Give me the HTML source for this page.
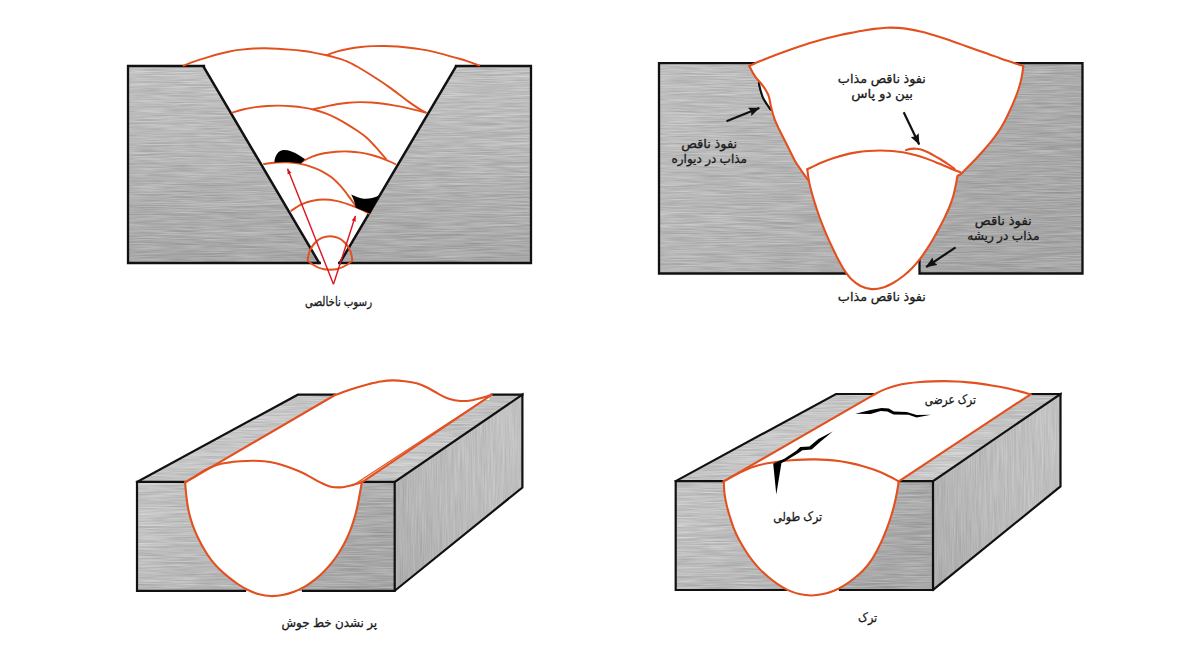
<!DOCTYPE html>
<html lang="fa">
<head>
<meta charset="utf-8">
<title>عیوب جوش</title>
<style>
html,body{margin:0;padding:0;background:#fff;}
body{width:1200px;height:653px;overflow:hidden;}
svg{display:block;}
text{font-family:"Liberation Sans", "DejaVu Sans", sans-serif;fill:#1a1a1a;stroke:#1a1a1a;stroke-width:0.3px;}
</style>
</head>
<body>
<svg width="1200" height="653" viewBox="0 0 1200 653">
<defs>
<filter id="brushH" x="0" y="0" width="100%" height="100%" filterUnits="objectBoundingBox" color-interpolation-filters="sRGB">
  <feTurbulence type="fractalNoise" baseFrequency="0.03 1.9" numOctaves="2" seed="3" result="n"/>
  <feColorMatrix in="n" type="matrix" values="1 0 0 0 0  1 0 0 0 0  1 0 0 0 0  0 0 0 0 1" result="g"/>
  <feComposite in="SourceGraphic" in2="g" operator="arithmetic" k1="0" k2="1" k3="0.22" k4="-0.11" result="c"/>
  <feComposite in="c" in2="SourceGraphic" operator="in"/>
</filter>
<filter id="brushV" x="0" y="0" width="100%" height="100%" filterUnits="objectBoundingBox" color-interpolation-filters="sRGB">
  <feTurbulence type="fractalNoise" baseFrequency="1.9 0.025" numOctaves="2" seed="5" result="n"/>
  <feColorMatrix in="n" type="matrix" values="1 0 0 0 0  1 0 0 0 0  1 0 0 0 0  0 0 0 0 1" result="g"/>
  <feComposite in="SourceGraphic" in2="g" operator="arithmetic" k1="0" k2="1" k3="0.14" k4="-0.07" result="c"/>
  <feComposite in="c" in2="SourceGraphic" operator="in"/>
</filter>
<linearGradient id="gTL" x1="0" y1="0" x2="0" y2="1">
  <stop offset="0" stop-color="#c0c0c0"/><stop offset="0.4" stop-color="#b8b8b8"/><stop offset="0.7" stop-color="#afafaf"/><stop offset="1" stop-color="#a8a8a8"/>
</linearGradient>
<linearGradient id="gTR" x1="0" y1="0" x2="1" y2="0.5">
  <stop offset="0" stop-color="#c0c0c0"/><stop offset="0.45" stop-color="#b5b5b5"/><stop offset="1" stop-color="#a6a6a6"/>
</linearGradient>
<linearGradient id="gFront" x1="0" y1="0" x2="1" y2="0.35">
  <stop offset="0" stop-color="#c5c5c5"/><stop offset="0.5" stop-color="#b8b8b8"/><stop offset="1" stop-color="#a7a7a7"/>
</linearGradient>
<linearGradient id="gTop" x1="0" y1="1" x2="1" y2="0">
  <stop offset="0" stop-color="#c2c2c2"/><stop offset="0.5" stop-color="#c8c8c8"/><stop offset="1" stop-color="#bebebe"/>
</linearGradient>
<linearGradient id="gSide" x1="0" y1="1" x2="1" y2="0">
  <stop offset="0" stop-color="#acacac"/><stop offset="0.5" stop-color="#bbbbbb"/><stop offset="1" stop-color="#c4c4c4"/>
</linearGradient>
<marker id="arR" viewBox="0 0 10 10" refX="9" refY="5" markerWidth="6" markerHeight="6" markerUnits="userSpaceOnUse" orient="auto">
  <path d="M0,1.5 L10,5 L0,8.5 Z" fill="#dc1420"/>
</marker>
<marker id="arK" viewBox="0 0 12 10" refX="11.3" refY="5" markerWidth="11.4" markerHeight="9.5" markerUnits="userSpaceOnUse" orient="auto">
  <path d="M0.3,0.4 L12,5 L0.3,9.6 L2,5 Z" fill="#111"/>
</marker>
</defs>
<rect width="1200" height="653" fill="#fff"/>

<g id="p1">
<g filter="url(#brushH)"><path d="M128,66 H204 L319.8,263 H128 Z" fill="url(#gTL)"/></g>
<g filter="url(#brushH)"><path d="M456,66 H531 V263 H339.2 Z" fill="url(#gTL)"/></g>
<path d="M204,66 H128 V263 H319.8 M339.2,263 H531 V66 H456" fill="none" stroke="#111" stroke-width="2.3" stroke-linejoin="miter" stroke-linecap="square"/>
<path d="M202.8,65.4 L319.7,263.8 M456.6,65.4 L339.3,263.8" fill="none" stroke="#111" stroke-width="2.5" stroke-linecap="butt"/>
<path d="M183.50,65.60 C185.38,64.88 190.97,62.61 194.77,61.29 C198.56,59.97 202.44,58.87 206.28,57.69 C210.13,56.51 213.96,55.27 217.85,54.23 C221.73,53.19 225.64,52.22 229.58,51.45 C233.53,50.68 237.52,50.11 241.51,49.63 C245.50,49.15 249.51,48.79 253.52,48.57 C257.53,48.35 261.56,48.28 265.58,48.31 C269.60,48.34 273.63,48.55 277.64,48.76 C281.66,48.98 285.68,49.25 289.68,49.59 C293.69,49.93 297.70,50.29 301.69,50.79 C305.68,51.30 309.66,51.89 313.62,52.60 C317.58,53.31 321.52,54.12 325.44,55.04 C329.35,55.96 333.26,56.96 337.10,58.13 C340.94,59.31 344.81,60.49 348.49,62.08 C352.16,63.68 355.65,65.72 359.13,67.71 C362.62,69.70 366.01,71.89 369.42,74.03 C372.82,76.17 376.22,78.32 379.57,80.54 C382.93,82.77 386.25,85.04 389.52,87.38 C392.80,89.71 396.02,92.13 399.23,94.54 C402.45,96.96 405.56,99.53 408.82,101.87 C412.09,104.21 416.01,106.80 418.84,108.59 C421.67,110.38 424.64,111.93 425.80,112.60" fill="none" stroke="#e3501f" stroke-width="1.9" stroke-linecap="round"/>
<path d="M326.00,55.30 C327.90,54.66 333.56,52.55 337.41,51.45 C341.27,50.36 345.20,49.48 349.14,48.74 C353.08,48.01 357.07,47.48 361.06,47.04 C365.05,46.60 369.06,46.30 373.07,46.12 C377.08,45.95 381.10,45.92 385.11,45.98 C389.12,46.05 393.14,46.25 397.14,46.54 C401.15,46.83 405.15,47.25 409.13,47.72 C413.12,48.19 417.10,48.73 421.07,49.38 C425.03,50.03 428.98,50.75 432.90,51.62 C436.82,52.48 440.70,53.52 444.58,54.56 C448.46,55.59 452.32,56.71 456.18,57.84 C460.03,58.96 463.91,60.03 467.71,61.31 C471.52,62.58 477.12,64.80 479.00,65.50" fill="none" stroke="#e3501f" stroke-width="1.9" stroke-linecap="round"/>
<path d="M232.30,112.60 C234.22,112.05 239.92,110.20 243.80,109.28 C247.67,108.36 251.61,107.64 255.55,107.08 C259.50,106.53 263.49,106.18 267.47,105.94 C271.45,105.71 275.44,105.62 279.43,105.67 C283.42,105.73 287.41,105.95 291.38,106.26 C295.36,106.58 299.34,106.96 303.28,107.57 C307.22,108.19 311.15,108.96 315.00,109.96 C318.85,110.97 322.68,112.17 326.38,113.62 C330.09,115.07 333.69,116.83 337.23,118.66 C340.77,120.48 344.21,122.51 347.63,124.58 C351.04,126.64 354.43,128.76 357.70,131.04 C360.97,133.32 364.26,135.62 367.23,138.26 C370.20,140.90 372.39,143.43 375.51,146.87 C378.64,150.31 384.25,156.89 386.00,158.90" fill="none" stroke="#e3501f" stroke-width="1.9" stroke-linecap="round"/>
<path d="M313.30,109.30 C315.22,108.87 320.98,107.57 324.83,106.73 C328.67,105.89 332.49,104.91 336.36,104.25 C340.24,103.58 344.16,103.11 348.08,102.76 C352.00,102.40 355.94,102.16 359.87,102.13 C363.80,102.10 367.75,102.29 371.67,102.56 C375.60,102.83 379.52,103.26 383.42,103.76 C387.33,104.27 391.21,104.93 395.09,105.62 C398.97,106.30 402.84,107.04 406.69,107.86 C410.54,108.69 415.00,109.78 418.19,110.57 C421.37,111.36 424.53,112.26 425.80,112.60" fill="none" stroke="#e3501f" stroke-width="1.9" stroke-linecap="round"/>
<path d="M264.00,164.00 C265.95,163.76 271.80,162.84 275.71,162.57 C279.63,162.29 283.58,162.16 287.50,162.34 C291.42,162.52 295.36,162.95 299.21,163.65 C303.07,164.35 306.92,165.29 310.64,166.53 C314.36,167.76 318.04,169.26 321.51,171.06 C324.99,172.85 328.39,174.92 331.48,177.31 C334.56,179.70 337.37,182.52 340.03,185.39 C342.70,188.27 344.67,190.91 347.45,194.56 C350.23,198.21 355.16,205.18 356.70,207.30" fill="none" stroke="#e3501f" stroke-width="1.9" stroke-linecap="round"/>
<path d="M301.30,162.00 C303.12,161.09 308.45,158.02 312.23,156.56 C316.01,155.11 320.01,154.09 323.99,153.28 C327.97,152.47 332.06,152.02 336.12,151.71 C340.18,151.41 344.28,151.30 348.35,151.45 C352.42,151.60 356.51,151.98 360.52,152.62 C364.54,153.26 368.53,154.21 372.46,155.29 C376.39,156.37 380.29,157.63 384.10,159.08 C387.90,160.53 393.43,163.18 395.30,164.00" fill="none" stroke="#e3501f" stroke-width="1.9" stroke-linecap="round"/>
<path d="M291.30,210.70 C292.99,209.66 297.86,206.11 301.42,204.45 C304.98,202.80 308.81,201.58 312.65,200.76 C316.50,199.94 320.54,199.51 324.47,199.52 C328.40,199.54 332.37,200.09 336.25,200.85 C340.12,201.61 343.94,202.84 347.71,204.10 C351.47,205.35 355.18,206.79 358.81,208.37 C362.44,209.96 367.72,212.73 369.50,213.60" fill="none" stroke="#e3501f" stroke-width="1.9" stroke-linecap="round"/>
<path d="M274.4,162.6 C274.6,155.5 278.5,150 284,150 C289,150 294,152 299,155.3 C302,157.3 304,158.5 305,159 C304,160.5 302.5,162 301,163.6 C292,161.8 283,161.6 274.4,162.6 Z" fill="#000"/>
<path d="M351.2,194.4 C355,196.3 359,198 363.3,198.7 C368,199.2 373,198.4 379.2,195.6 L370.3,213.8 C365,211.4 359.5,209.4 355.6,207.6 C355.2,203 353.5,198.5 351.2,194.4 Z" fill="#000"/>
<path d="M307.7,260.6 C308.6,246 318.4,236.3 330,236.3 C341.6,236.3 351.4,246 352.3,260.6 C345.6,267 338,269.8 330,269.8 C322,269.8 314.4,267 307.7,260.6 Z" fill="none" stroke="#e3501f" stroke-width="2" stroke-linejoin="round"/>
<path d="M333.5,284.3 L287.6,168.7" fill="none" stroke="#dc1420" stroke-width="1.4" marker-end="url(#arR)"/>
<path d="M333.5,284.3 L355.4,216" fill="none" stroke="#dc1420" stroke-width="1.4" marker-end="url(#arR)"/>
<text transform="translate(338.54,305.60) scale(0.8185,1)" x="0" y="0" font-size="12.5" text-anchor="middle" direction="rtl">رسوب ناخالصی</text>
</g>
<g id="p2">
<g filter="url(#brushH)"><path d="M659,63.2 H1082.5 V273.6 H919.5 V250 H846 V273.6 H659 Z" fill="url(#gTR)"/></g>
<path d="M848,273.5 H659 V63.2 H1082.5 V273.5 H919.5 V259" fill="none" stroke="#111" stroke-width="2.3" stroke-linejoin="miter"/>
<path d="M749.30,66.00 C751.10,65.18 756.45,62.62 760.10,61.08 C763.75,59.54 767.50,58.21 771.20,56.77 C774.90,55.33 778.59,53.86 782.31,52.47 C786.03,51.07 789.77,49.72 793.52,48.42 C797.28,47.12 801.05,45.87 804.84,44.68 C808.63,43.48 812.44,42.36 816.25,41.26 C820.07,40.16 823.90,39.10 827.74,38.10 C831.59,37.09 835.43,36.10 839.31,35.23 C843.18,34.36 847.09,33.61 850.99,32.87 C854.89,32.12 858.81,31.45 862.72,30.78 C866.64,30.11 870.55,29.37 874.48,28.86 C878.41,28.34 882.37,27.85 886.32,27.69 C890.27,27.53 894.25,27.63 898.20,27.91 C902.14,28.19 906.09,28.73 910.00,29.39 C913.91,30.04 917.80,30.90 921.65,31.84 C925.51,32.78 929.33,33.89 933.14,35.01 C936.94,36.14 940.72,37.37 944.50,38.62 C948.27,39.86 952.01,41.19 955.76,42.50 C959.52,43.81 963.25,45.15 967.00,46.47 C970.75,47.79 974.51,49.08 978.26,50.40 C982.00,51.71 985.75,53.04 989.49,54.39 C993.23,55.73 996.94,57.13 1000.69,58.45 C1004.44,59.76 1008.21,61.01 1011.98,62.27 C1015.75,63.53 1021.41,65.38 1023.30,66.00 C1023.01,67.96 1022.39,73.89 1021.59,77.76 C1020.79,81.63 1019.73,85.47 1018.52,89.24 C1017.31,93.01 1015.84,96.71 1014.34,100.39 C1012.85,104.06 1011.22,107.69 1009.54,111.29 C1007.87,114.89 1006.19,118.49 1004.28,121.97 C1002.38,125.44 1000.33,128.85 998.12,132.14 C995.90,135.43 993.48,138.59 991.00,141.68 C988.53,144.78 985.89,147.76 983.25,150.73 C980.62,153.70 977.93,156.62 975.20,159.52 C972.48,162.41 969.23,165.71 966.92,168.08 C964.60,170.44 962.24,172.76 961.30,173.70 L957.4,176 C957.18,177.31 956.72,180.60 956.05,183.85 C955.39,187.10 954.48,191.66 953.39,195.48 C952.30,199.30 951.00,203.07 949.53,206.76 C948.06,210.45 946.32,214.05 944.58,217.63 C942.85,221.21 941.00,224.75 939.12,228.26 C937.23,231.77 935.30,235.25 933.28,238.68 C931.27,242.12 929.20,245.54 927.03,248.87 C924.85,252.20 922.64,255.53 920.21,258.67 C917.78,261.81 915.21,264.87 912.45,267.71 C909.69,270.56 906.74,273.26 903.64,275.73 C900.54,278.20 897.27,280.54 893.85,282.51 C890.44,284.48 886.85,286.44 883.15,287.53 C879.45,288.63 875.43,289.36 871.67,289.11 C867.91,288.85 863.98,287.69 860.57,286.00 C857.15,284.32 853.97,281.72 851.20,279.00 C848.43,276.28 846.14,272.95 843.95,269.65 C841.77,266.36 839.96,262.77 838.10,259.26 C836.25,255.74 834.52,252.14 832.80,248.54 C831.08,244.95 829.39,241.34 827.78,237.70 C826.17,234.06 824.62,230.38 823.15,226.68 C821.67,222.98 820.26,219.25 818.93,215.50 C817.59,211.75 816.33,207.97 815.14,204.17 C813.94,200.37 812.80,196.55 811.77,192.70 C810.75,188.86 809.71,185.01 808.96,181.11 C808.22,177.21 807.58,171.27 807.30,169.30 L808.4,180.5 C807.25,178.89 803.72,174.10 801.48,170.84 C799.25,167.57 796.96,164.34 794.98,160.92 C793.01,157.50 791.41,153.85 789.63,150.31 C787.86,146.77 786.11,143.20 784.33,139.67 C782.54,136.13 780.61,132.65 778.92,129.07 C777.24,125.49 775.54,121.91 774.22,118.19 C772.90,114.47 771.98,110.58 771.01,106.76 C770.04,102.93 769.81,98.79 768.40,95.22 C767.00,91.64 764.80,88.44 762.57,85.30 C760.34,82.15 757.22,79.58 755.00,76.37 C752.79,73.15 750.25,67.73 749.30,66.00Z" fill="#fff" stroke="none"/>
<path d="M758.90,82.90 C759.13,83.97 759.63,86.90 760.30,89.30 C760.97,91.70 761.82,94.85 762.90,97.30 C763.98,99.75 765.52,101.97 766.80,104.00 C768.08,106.03 769.97,108.58 770.60,109.50" fill="none" stroke="#111" stroke-width="2" stroke-linecap="round"/>
<path d="M758.90,82.90 C759.13,83.97 759.63,86.90 760.30,89.30 C760.97,91.70 761.82,94.85 762.90,97.30 C763.98,99.75 765.52,101.97 766.80,104.00 C768.08,106.03 770.07,109.72 770.60,109.50 C771.13,109.28 770.32,105.17 770.00,102.70 C769.68,100.23 769.58,97.37 768.70,94.70 C767.82,92.03 765.37,88.03 764.70,86.70 L758.9,82.9 Z" fill="#fff" stroke="none"/>
<path d="M758.90,82.90 C759.13,83.97 759.63,86.90 760.30,89.30 C760.97,91.70 761.82,94.85 762.90,97.30 C763.98,99.75 765.52,101.97 766.80,104.00 C768.08,106.03 769.97,108.58 770.60,109.50" fill="none" stroke="#111" stroke-width="2" stroke-linecap="round"/>
<path d="M749.30,66.00 C751.10,65.18 756.45,62.62 760.10,61.08 C763.75,59.54 767.50,58.21 771.20,56.77 C774.90,55.33 778.59,53.86 782.31,52.47 C786.03,51.07 789.77,49.72 793.52,48.42 C797.28,47.12 801.05,45.87 804.84,44.68 C808.63,43.48 812.44,42.36 816.25,41.26 C820.07,40.16 823.90,39.10 827.74,38.10 C831.59,37.09 835.43,36.10 839.31,35.23 C843.18,34.36 847.09,33.61 850.99,32.87 C854.89,32.12 858.81,31.45 862.72,30.78 C866.64,30.11 870.55,29.37 874.48,28.86 C878.41,28.34 882.37,27.85 886.32,27.69 C890.27,27.53 894.25,27.63 898.20,27.91 C902.14,28.19 906.09,28.73 910.00,29.39 C913.91,30.04 917.80,30.90 921.65,31.84 C925.51,32.78 929.33,33.89 933.14,35.01 C936.94,36.14 940.72,37.37 944.50,38.62 C948.27,39.86 952.01,41.19 955.76,42.50 C959.52,43.81 963.25,45.15 967.00,46.47 C970.75,47.79 974.51,49.08 978.26,50.40 C982.00,51.71 985.75,53.04 989.49,54.39 C993.23,55.73 996.94,57.13 1000.69,58.45 C1004.44,59.76 1008.21,61.01 1011.98,62.27 C1015.75,63.53 1021.41,65.38 1023.30,66.00" fill="none" stroke="#e3501f" stroke-width="2.1" stroke-linejoin="round" stroke-linecap="round"/>
<path d="M1023.30,66.00 C1023.01,67.96 1022.39,73.89 1021.59,77.76 C1020.79,81.63 1019.73,85.47 1018.52,89.24 C1017.31,93.01 1015.84,96.71 1014.34,100.39 C1012.85,104.06 1011.22,107.69 1009.54,111.29 C1007.87,114.89 1006.19,118.49 1004.28,121.97 C1002.38,125.44 1000.33,128.85 998.12,132.14 C995.90,135.43 993.48,138.59 991.00,141.68 C988.53,144.78 985.89,147.76 983.25,150.73 C980.62,153.70 977.93,156.62 975.20,159.52 C972.48,162.41 969.23,165.71 966.92,168.08 C964.60,170.44 962.24,172.76 961.30,173.70" fill="none" stroke="#e3501f" stroke-width="2.1" stroke-linejoin="round" stroke-linecap="round"/>
<path d="M808.40,180.50 C807.25,178.89 803.72,174.10 801.48,170.84 C799.25,167.57 796.96,164.34 794.98,160.92 C793.01,157.50 791.41,153.85 789.63,150.31 C787.86,146.77 786.11,143.20 784.33,139.67 C782.54,136.13 780.61,132.65 778.92,129.07 C777.24,125.49 775.54,121.91 774.22,118.19 C772.90,114.47 771.98,110.58 771.01,106.76 C770.04,102.93 769.81,98.79 768.40,95.22 C767.00,91.64 764.80,88.44 762.57,85.30 C760.34,82.15 757.22,79.58 755.00,76.37 C752.79,73.15 750.25,67.73 749.30,66.00" fill="none" stroke="#e3501f" stroke-width="2.1" stroke-linejoin="round" stroke-linecap="round"/>
<path d="M960.70,172.50 C958.84,171.76 953.23,169.58 949.52,168.06 C945.82,166.53 942.17,164.86 938.46,163.34 C934.76,161.81 931.06,160.24 927.30,158.88 C923.53,157.52 919.72,156.23 915.87,155.16 C912.02,154.08 908.12,153.14 904.18,152.44 C900.25,151.75 896.25,151.33 892.26,151.00 C888.28,150.68 884.26,150.50 880.26,150.50 C876.26,150.50 872.25,150.67 868.26,150.99 C864.27,151.31 860.27,151.76 856.33,152.41 C852.38,153.05 848.45,153.90 844.58,154.88 C840.70,155.86 836.86,157.04 833.06,158.30 C829.26,159.57 826.07,160.64 821.78,162.47 C817.49,164.30 809.71,168.16 807.30,169.30" fill="none" stroke="#e3501f" stroke-width="2.1" stroke-linejoin="round" stroke-linecap="round"/>
<path d="M807.30,169.30 C807.58,171.27 808.22,177.21 808.96,181.11 C809.71,185.01 810.75,188.86 811.77,192.70 C812.80,196.55 813.94,200.37 815.14,204.17 C816.33,207.97 817.59,211.75 818.93,215.50 C820.26,219.25 821.67,222.98 823.15,226.68 C824.62,230.38 826.17,234.06 827.78,237.70 C829.39,241.34 831.08,244.95 832.80,248.54 C834.52,252.14 836.25,255.74 838.10,259.26 C839.96,262.77 841.77,266.36 843.95,269.65 C846.14,272.95 848.43,276.28 851.20,279.00 C853.97,281.72 857.15,284.32 860.57,286.00 C863.98,287.69 867.91,288.85 871.67,289.11 C875.43,289.36 879.45,288.63 883.15,287.53 C886.85,286.44 890.44,284.48 893.85,282.51 C897.27,280.54 900.54,278.20 903.64,275.73 C906.74,273.26 909.69,270.56 912.45,267.71 C915.21,264.87 917.78,261.81 920.21,258.67 C922.64,255.53 924.85,252.20 927.03,248.87 C929.20,245.54 931.27,242.12 933.28,238.68 C935.30,235.25 937.23,231.77 939.12,228.26 C941.00,224.75 942.85,221.21 944.58,217.63 C946.32,214.05 948.06,210.45 949.53,206.76 C951.00,203.07 952.30,199.30 953.39,195.48 C954.48,191.66 955.39,187.10 956.05,183.85 C956.72,180.60 957.18,177.31 957.40,176.00 L960.9,174" fill="none" stroke="#e3501f" stroke-width="2.1" stroke-linejoin="round" stroke-linecap="round"/>
<path d="M906.00,150.00 C906.83,149.82 909.33,149.12 911.00,148.90 C912.67,148.68 914.33,148.58 916.00,148.70 C917.67,148.82 919.22,149.10 921.00,149.60 C922.78,150.10 924.70,150.80 926.70,151.70 C928.70,152.60 930.78,153.78 933.00,155.00 C935.22,156.22 937.28,157.33 940.00,159.00 C942.72,160.67 946.85,163.33 949.30,165.00 C951.75,166.67 953.80,168.33 954.70,169.00" fill="none" stroke="#e3501f" stroke-width="2.1" stroke-linejoin="round" stroke-linecap="round"/>
<path d="M726.5,121.3 L759.3,107.9" stroke="#111" stroke-width="2.2" marker-end="url(#arK)"/>
<path d="M903.7,112.3 L919.2,144.5" stroke="#111" stroke-width="2.2" marker-end="url(#arK)"/>
<path d="M955.6,247.4 L926.2,267" stroke="#111" stroke-width="2.2" marker-end="url(#arK)"/>
<text transform="translate(709.20,147.80) scale(1.0423,1)" x="0" y="0" font-size="12.5" text-anchor="middle" direction="rtl">نفوذ ناقص</text>
<text transform="translate(709.23,163.20) scale(0.9623,1)" x="0" y="0" font-size="12.5" text-anchor="middle" direction="rtl">مذاب در دیواره</text>
<text transform="translate(881.88,82.70) scale(1.0268,1)" x="0" y="0" font-size="12.5" text-anchor="middle" direction="rtl">نفوذ ناقص مذاب</text>
<text transform="translate(882.10,98.10) scale(1.0714,1)" x="0" y="0" font-size="12.5" text-anchor="middle" direction="rtl">بین دو پاس</text>
<text transform="translate(1003.30,225.40) scale(1.0577,1)" x="0" y="0" font-size="12.5" text-anchor="middle" direction="rtl">نفوذ ناقص</text>
<text transform="translate(1003.30,240.40) scale(0.9722,1)" x="0" y="0" font-size="12.5" text-anchor="middle" direction="rtl">مذاب در ریشه</text>
<text transform="translate(881.88,300.90) scale(1.0268,1)" x="0" y="0" font-size="12.5" text-anchor="middle" direction="rtl">نفوذ ناقص مذاب</text>
</g>
<g id="p3">
<g filter="url(#brushH)"><path d="M137.0,481.9 H394.7 V590.8 H137.0 Z" fill="url(#gFront)"/></g>
<g filter="url(#brushH)"><path d="M137.0,481.9 L297.8,394.7 L522.4,394.7 L394.7,481.9 Z" fill="url(#gTop)"/></g>
<g filter="url(#brushV)"><path d="M394.7,481.9 L522.4,394.7 L522.4,487.5 L394.7,590.8 Z" fill="url(#gSide)"/></g>
<path d="M185.10,482.30 C185.28,484.28 185.72,490.24 186.15,494.19 C186.59,498.14 187.00,502.10 187.69,506.01 C188.38,509.92 189.23,513.82 190.30,517.64 C191.36,521.46 192.65,525.24 194.10,528.93 C195.55,532.63 197.21,536.26 198.98,539.81 C200.75,543.36 202.66,546.87 204.73,550.26 C206.79,553.65 208.92,557.04 211.34,560.16 C213.77,563.28 216.48,566.21 219.30,568.99 C222.12,571.78 225.16,574.38 228.25,576.88 C231.33,579.38 234.50,581.81 237.80,584.00 C241.11,586.19 244.52,588.30 248.07,590.02 C251.63,591.75 255.33,593.33 259.13,594.33 C262.92,595.34 266.91,595.95 270.82,596.06 C274.74,596.18 278.76,595.73 282.63,595.02 C286.51,594.32 290.38,593.21 294.07,591.82 C297.77,590.43 301.37,588.67 304.79,586.69 C308.21,584.71 311.47,582.38 314.59,579.94 C317.70,577.49 320.69,574.82 323.49,572.02 C326.30,569.23 328.95,566.24 331.43,563.14 C333.91,560.05 336.23,556.80 338.39,553.47 C340.55,550.14 342.55,546.69 344.40,543.17 C346.24,539.66 347.94,536.05 349.45,532.38 C350.97,528.71 352.30,524.95 353.49,521.16 C354.69,517.38 355.70,513.52 356.62,509.65 C357.54,505.79 358.17,502.53 359.04,497.97 C359.90,493.41 361.34,484.91 361.80,482.30 L491.5,394.8 C490.23,395.21 487.11,396.39 483.90,397.29 C480.70,398.18 476.20,399.55 472.29,400.17 C468.37,400.79 464.33,401.24 460.41,401.01 C456.49,400.79 452.50,400.03 448.77,398.81 C445.03,397.59 441.55,395.52 438.03,393.68 C434.50,391.83 431.19,389.47 427.61,387.75 C424.04,386.02 420.36,384.41 416.56,383.32 C412.76,382.23 408.75,381.68 404.80,381.19 C400.85,380.71 396.83,380.38 392.85,380.42 C388.88,380.46 384.89,380.85 380.95,381.44 C377.02,382.03 373.12,383.01 369.24,383.97 C365.36,384.94 361.52,386.06 357.70,387.23 C353.87,388.39 350.08,389.68 346.30,390.97 C342.52,392.27 336.88,394.33 335.00,395.00 Z" fill="#fff" stroke="none"/>
<path d="M336,393.5 H491 L489,400 L440,400 Z" fill="#fff"/>
<path d="M185.2,481.9 H137.0 V590.8 H245.0 M303.0,590.8 H394.7 V481.9 H361.8" fill="none" stroke="#111" stroke-width="2.2" stroke-linejoin="miter" stroke-linecap="square"/>
<path d="M137.0,481.9 L297.8,394.7 H335.0 M491.5,394.7 H522.4" fill="none" stroke="#111" stroke-width="2.2" stroke-linejoin="miter" stroke-linecap="square"/>
<path d="M394.7,481.9 L522.4,394.7 V487.5 L394.7,590.8" fill="none" stroke="#111" stroke-width="2.2" stroke-linejoin="miter" stroke-linecap="square"/>
<path d="M185.10,482.30 C185.28,484.28 185.72,490.24 186.15,494.19 C186.59,498.14 187.00,502.10 187.69,506.01 C188.38,509.92 189.23,513.82 190.30,517.64 C191.36,521.46 192.65,525.24 194.10,528.93 C195.55,532.63 197.21,536.26 198.98,539.81 C200.75,543.36 202.66,546.87 204.73,550.26 C206.79,553.65 208.92,557.04 211.34,560.16 C213.77,563.28 216.48,566.21 219.30,568.99 C222.12,571.78 225.16,574.38 228.25,576.88 C231.33,579.38 234.50,581.81 237.80,584.00 C241.11,586.19 244.52,588.30 248.07,590.02 C251.63,591.75 255.33,593.33 259.13,594.33 C262.92,595.34 266.91,595.95 270.82,596.06 C274.74,596.18 278.76,595.73 282.63,595.02 C286.51,594.32 290.38,593.21 294.07,591.82 C297.77,590.43 301.37,588.67 304.79,586.69 C308.21,584.71 311.47,582.38 314.59,579.94 C317.70,577.49 320.69,574.82 323.49,572.02 C326.30,569.23 328.95,566.24 331.43,563.14 C333.91,560.05 336.23,556.80 338.39,553.47 C340.55,550.14 342.55,546.69 344.40,543.17 C346.24,539.66 347.94,536.05 349.45,532.38 C350.97,528.71 352.30,524.95 353.49,521.16 C354.69,517.38 355.70,513.52 356.62,509.65 C357.54,505.79 358.17,502.53 359.04,497.97 C359.90,493.41 361.34,484.91 361.80,482.30" fill="none" stroke="#e3501f" stroke-width="2.1" stroke-linejoin="round" stroke-linecap="round"/>
<path d="M185.20,482.30 C186.92,481.28 192.11,478.27 195.52,476.18 C198.93,474.10 202.16,471.66 205.66,469.80 C209.16,467.93 212.77,466.20 216.53,465.01 C220.30,463.81 224.31,463.24 228.25,462.63 C232.19,462.01 236.19,461.63 240.17,461.31 C244.15,461.00 248.16,460.74 252.15,460.74 C256.14,460.73 260.15,460.86 264.11,461.29 C268.07,461.71 272.03,462.39 275.91,463.29 C279.80,464.19 283.64,465.37 287.41,466.66 C291.19,467.96 294.91,469.44 298.56,471.06 C302.21,472.69 305.74,474.57 309.29,476.41 C312.84,478.26 316.26,480.40 319.84,482.12 C323.43,483.83 327.01,485.86 330.79,486.71 C334.56,487.56 338.58,487.56 342.47,487.20 C346.36,486.85 350.91,485.39 354.13,484.58 C357.35,483.76 360.52,482.68 361.80,482.30" fill="none" stroke="#e3501f" stroke-width="2.1" stroke-linejoin="round" stroke-linecap="round"/>
<path d="M335.00,395.00 C336.88,394.33 342.52,392.27 346.30,390.97 C350.08,389.68 353.87,388.39 357.70,387.23 C361.52,386.06 365.36,384.94 369.24,383.97 C373.12,383.01 377.02,382.03 380.95,381.44 C384.89,380.85 388.88,380.46 392.85,380.42 C396.83,380.38 400.85,380.71 404.80,381.19 C408.75,381.68 412.76,382.23 416.56,383.32 C420.36,384.41 424.04,386.02 427.61,387.75 C431.19,389.47 434.50,391.83 438.03,393.68 C441.55,395.52 445.03,397.59 448.77,398.81 C452.50,400.03 456.49,400.79 460.41,401.01 C464.33,401.24 468.37,400.79 472.29,400.17 C476.20,399.55 480.70,398.18 483.90,397.29 C487.11,396.39 490.23,395.21 491.50,394.80" fill="none" stroke="#e3501f" stroke-width="2.1" stroke-linejoin="round" stroke-linecap="round"/>
<path d="M185.2,482.3 L335,395" fill="none" stroke="#e3501f" stroke-width="2.1" stroke-linejoin="round" stroke-linecap="round"/>
<path d="M361.8,482.3 L491.5,395" fill="none" stroke="#e3501f" stroke-width="2.1" stroke-linejoin="round" stroke-linecap="round"/>
<path d="M352,486 L489,396.5" fill="none" stroke="#e3501f" stroke-width="1.2"/>
<text transform="translate(329.27,627.00) scale(0.9545,1)" x="0" y="0" font-size="12.5" text-anchor="middle" direction="rtl">پر نشدن خط جوش</text>
</g>
<g id="p4">
<g filter="url(#brushH)"><path d="M675.7,481.1 H933.0 V590.0 H675.7 Z" fill="url(#gFront)"/></g>
<g filter="url(#brushH)"><path d="M675.7,481.1 L836.0,394.0 L1060.5,394.0 L933.0,481.1 Z" fill="url(#gTop)"/></g>
<g filter="url(#brushV)"><path d="M933.0,481.1 L1060.5,394.0 L1060.5,486.4 L933.0,590.0 Z" fill="url(#gSide)"/></g>
<path d="M723.75,481.30 C723.87,483.30 724.00,489.34 724.48,493.31 C724.96,497.28 725.74,501.23 726.65,505.13 C727.55,509.03 728.72,512.89 729.90,516.72 C731.08,520.56 732.26,524.41 733.72,528.14 C735.18,531.87 736.83,535.54 738.67,539.10 C740.51,542.65 742.61,546.09 744.75,549.48 C746.89,552.88 749.08,556.27 751.50,559.46 C753.92,562.64 756.51,565.72 759.28,568.61 C762.04,571.50 765.02,574.22 768.09,576.80 C771.15,579.39 774.33,581.88 777.65,584.10 C780.98,586.32 784.43,588.44 788.04,590.10 C791.66,591.75 795.49,593.14 799.35,594.03 C803.22,594.93 807.26,595.45 811.22,595.46 C815.17,595.47 819.21,594.91 823.10,594.08 C826.98,593.25 830.87,592.02 834.54,590.48 C838.21,588.95 841.74,586.97 845.12,584.86 C848.51,582.74 851.76,580.32 854.87,577.80 C857.97,575.27 861.02,572.62 863.75,569.71 C866.48,566.80 868.97,563.62 871.22,560.32 C873.47,557.03 875.37,553.46 877.25,549.92 C879.13,546.38 880.86,542.75 882.50,539.08 C884.14,535.42 885.67,531.70 887.08,527.95 C888.49,524.19 889.79,520.38 890.98,516.55 C892.18,512.72 893.28,508.85 894.24,504.96 C895.21,501.06 896.03,497.13 896.78,493.18 C897.53,489.24 898.42,483.28 898.75,481.30 L1030.6,394.3 C1028.03,393.62 1019.69,391.33 1015.18,390.21 C1010.66,389.09 1007.42,388.39 1003.51,387.59 C999.60,386.79 995.67,386.09 991.74,385.43 C987.81,384.77 983.87,384.13 979.92,383.61 C975.97,383.10 972.00,382.69 968.03,382.33 C964.06,381.97 960.08,381.67 956.10,381.46 C952.11,381.25 948.13,381.10 944.14,381.09 C940.16,381.07 936.17,381.19 932.18,381.36 C928.20,381.52 924.21,381.72 920.24,382.05 C916.27,382.38 912.29,382.75 908.35,383.32 C904.41,383.89 900.44,384.50 896.60,385.46 C892.75,386.43 888.94,387.63 885.26,389.10 C881.58,390.58 876.29,393.43 874.50,394.30 Z" fill="#fff" stroke="none"/>
<path d="M723.8,481.1 H675.7 V590.0 H786.0 M840.0,590.0 H933.0 V481.1 H898.8" fill="none" stroke="#111" stroke-width="2.2" stroke-linejoin="miter" stroke-linecap="square"/>
<path d="M675.7,481.1 L836.0,394.0 H874.5 M1030.6,394.0 H1060.5" fill="none" stroke="#111" stroke-width="2.2" stroke-linejoin="miter" stroke-linecap="square"/>
<path d="M933.0,481.1 L1060.5,394.0 V486.4 L933.0,590.0" fill="none" stroke="#111" stroke-width="2.2" stroke-linejoin="miter" stroke-linecap="square"/>
<path d="M723.75,481.30 C723.87,483.30 724.00,489.34 724.48,493.31 C724.96,497.28 725.74,501.23 726.65,505.13 C727.55,509.03 728.72,512.89 729.90,516.72 C731.08,520.56 732.26,524.41 733.72,528.14 C735.18,531.87 736.83,535.54 738.67,539.10 C740.51,542.65 742.61,546.09 744.75,549.48 C746.89,552.88 749.08,556.27 751.50,559.46 C753.92,562.64 756.51,565.72 759.28,568.61 C762.04,571.50 765.02,574.22 768.09,576.80 C771.15,579.39 774.33,581.88 777.65,584.10 C780.98,586.32 784.43,588.44 788.04,590.10 C791.66,591.75 795.49,593.14 799.35,594.03 C803.22,594.93 807.26,595.45 811.22,595.46 C815.17,595.47 819.21,594.91 823.10,594.08 C826.98,593.25 830.87,592.02 834.54,590.48 C838.21,588.95 841.74,586.97 845.12,584.86 C848.51,582.74 851.76,580.32 854.87,577.80 C857.97,575.27 861.02,572.62 863.75,569.71 C866.48,566.80 868.97,563.62 871.22,560.32 C873.47,557.03 875.37,553.46 877.25,549.92 C879.13,546.38 880.86,542.75 882.50,539.08 C884.14,535.42 885.67,531.70 887.08,527.95 C888.49,524.19 889.79,520.38 890.98,516.55 C892.18,512.72 893.28,508.85 894.24,504.96 C895.21,501.06 896.03,497.13 896.78,493.18 C897.53,489.24 898.42,483.28 898.75,481.30" fill="none" stroke="#e3501f" stroke-width="2.1" stroke-linejoin="round" stroke-linecap="round"/>
<path d="M723.75,481.30 C725.48,480.33 730.64,477.31 734.15,475.45 C737.66,473.60 741.20,471.74 744.84,470.17 C748.47,468.59 752.20,467.16 755.99,466.01 C759.78,464.86 763.69,464.04 767.58,463.28 C771.48,462.53 775.43,461.98 779.37,461.49 C783.32,460.99 787.28,460.63 791.24,460.31 C795.21,459.99 799.18,459.74 803.15,459.59 C807.13,459.43 811.11,459.33 815.08,459.38 C819.05,459.42 823.03,459.57 827.00,459.85 C830.96,460.13 834.92,460.54 838.86,461.08 C842.79,461.63 846.72,462.30 850.61,463.12 C854.49,463.94 858.36,464.90 862.18,465.98 C866.01,467.06 869.81,468.25 873.55,469.60 C877.28,470.94 880.40,472.11 884.60,474.06 C888.80,476.01 896.39,480.09 898.75,481.30" fill="none" stroke="#e3501f" stroke-width="2.1" stroke-linejoin="round" stroke-linecap="round"/>
<path d="M874.50,394.30 C876.29,393.43 881.58,390.58 885.26,389.10 C888.94,387.63 892.75,386.43 896.60,385.46 C900.44,384.50 904.41,383.89 908.35,383.32 C912.29,382.75 916.27,382.38 920.24,382.05 C924.21,381.72 928.20,381.52 932.18,381.36 C936.17,381.19 940.16,381.07 944.14,381.09 C948.13,381.10 952.11,381.25 956.10,381.46 C960.08,381.67 964.06,381.97 968.03,382.33 C972.00,382.69 975.97,383.10 979.92,383.61 C983.87,384.13 987.81,384.77 991.74,385.43 C995.67,386.09 999.60,386.79 1003.51,387.59 C1007.42,388.39 1010.66,389.09 1015.18,390.21 C1019.69,391.33 1028.03,393.62 1030.60,394.30" fill="none" stroke="#e3501f" stroke-width="2.1" stroke-linejoin="round" stroke-linecap="round"/>
<path d="M723.75,481.3 L874.5,394.3 M898.75,481.3 L1030.6,394.3" fill="none" stroke="#e3501f" stroke-width="2.1" stroke-linejoin="round" stroke-linecap="round"/>
<path d="M773.2,463.4 L781.6,462 L776.3,494.6 Z" fill="#000"/>
<path d="M773.2,463.6 L784.3,458.8 L796.3,450.8 L800.3,446.9 L809.4,446.4 L818.4,439 L832.7,431.6 L820.6,441.6 L811.6,449.6 L802.4,450.2 L798.5,453 L784.6,461.6 L781.6,463 Z" fill="#000"/>
<path d="M855.3,413.8 L870.6,410 L881.6,407.9 L888.8,408.5 L893.9,411.5 L906.7,411.9 L916.7,415 L931,414.7 L916.5,417.4 L908.5,414.8 L893.5,414.5 L887.4,411.4 L880.6,411 L870.6,413.9 Z" fill="#000"/>
<text transform="translate(950.35,403.70) scale(0.8450,1)" x="0" y="0" font-size="12.5" text-anchor="middle" direction="rtl">ترک عرضی</text>
<text transform="translate(797.71,520.70) scale(0.8782,1)" x="0" y="0" font-size="12.5" text-anchor="middle" direction="rtl">ترک طولی</text>
<text transform="translate(867.56,622.00) scale(0.8857,1)" x="0" y="0" font-size="12.5" text-anchor="middle" direction="rtl">ترک</text>
</g>
</svg>
</body>
</html>
